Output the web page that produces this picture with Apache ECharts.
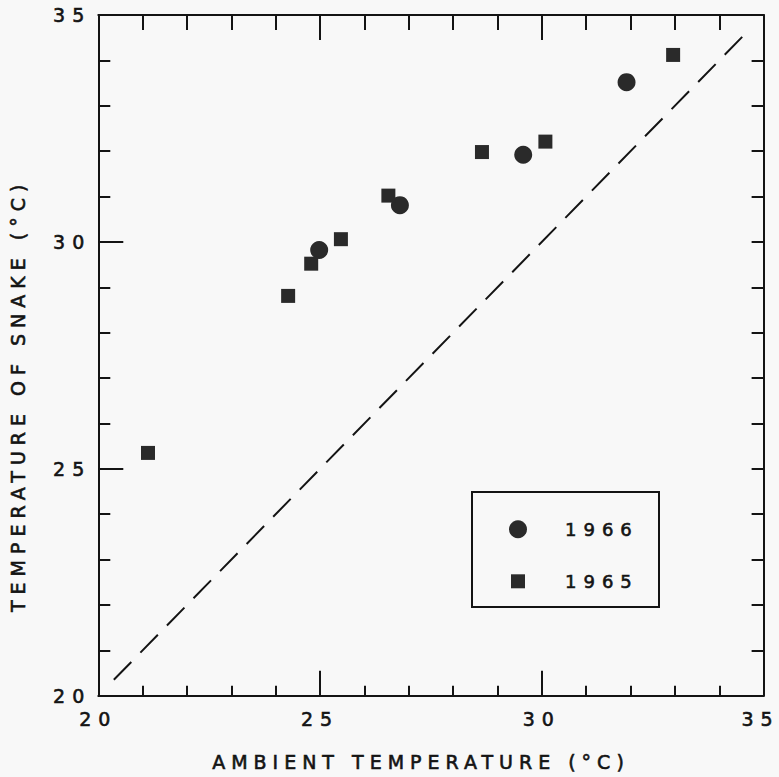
<!DOCTYPE html>
<html>
<head>
<meta charset="utf-8">
<script src="https://cdn.jsdelivr.net/npm/echarts@6/dist/echarts.min.js"></script>
<style>
html, body { margin: 0; padding: 0; background: #f8f8f8; }
#chart { width: 779px; height: 777px; }
</style>
</head>
<body>
<div id="chart"></div>
<script>
// Data
const xTitle = 'AMBIENT TEMPERATURE (°C)';
const yTitle = 'TEMPERATURE OF SNAKE (°C)';
const seriesNames = ['1966', '1965'];
const ambient1966 = [24.98, 26.80, 29.58, 31.91];
const snake1966   = [29.82, 30.81, 31.92, 33.52];
const ambient1965 = [21.12, 24.28, 24.80, 25.47, 26.54, 28.65, 30.08, 32.96];
const snake1965   = [25.35, 28.81, 29.52, 30.06, 31.02, 31.98, 32.21, 34.12];
const equalityLine = [20.35, 34.65];
const axisMin = 20, axisMax = 35, majorStep = 5, minorStep = 1;

const ink = '#141414';
const markColor = '#2a2a2a';
const font = 'DejaVu Sans';

const pairs = (xs, ys) => xs.map((x, i) => [x, ys[i]]);

function textStyle(size, extra) {
  return Object.assign({
    fontSize: size, color: ink, fontFamily: font,
    textBorderColor: ink, textBorderWidth: 0.6
  }, extra || {});
}

function makeAxis(position, step, tickLen, showLine, extra) {
  return Object.assign({
    type: 'value', position: position, min: axisMin, max: axisMax, interval: step,
    offset: 0,
    axisLine: { show: showLine, onZero: false, lineStyle: { color: ink, width: 2 } },
    splitLine: { show: false },
    axisTick: { show: true, inside: true, length: tickLen, lineStyle: { color: ink, width: 2 } },
    minorTick: { show: false },
    axisLabel: { show: false },
    axisPointer: { show: false }
  }, extra || {});
}

const chart = echarts.init(document.getElementById('chart'), null, { renderer: 'svg' });

const option = {
  backgroundColor: '#f8f8f8',
  animation: false,
  textStyle: { fontFamily: font, color: ink },
  grid: { left: 95, top: 15, right: 15, bottom: 81, containLabel: false },
  xAxis: [
    makeAxis('bottom', majorStep, 25, true, {
      name: xTitle, nameLocation: 'middle', nameGap: 57,
      nameTextStyle: textStyle(19, { padding: [0, 20, 0, 0] }),
      axisLabel: Object.assign({ show: true, margin: 14 }, textStyle(19))
    }),
    makeAxis('bottom', minorStep, 10, false),
    makeAxis('top', majorStep, 25, true),
    makeAxis('top', minorStep, 15, false)
  ],
  yAxis: [
    makeAxis('left', majorStep, 25, true, {
      name: yTitle, nameLocation: 'middle', nameGap: 71,
      nameTextStyle: textStyle(19, { padding: [0, 80, 0, 0] }),
      axisLabel: Object.assign({ show: true, margin: 7 }, textStyle(19))
    }),
    makeAxis('left', minorStep, 12, false),
    makeAxis('right', minorStep, 12, true)
  ],
  legend: [
    {
      data: [seriesNames[0]], orient: 'vertical', left: 509, top: 520,
      itemWidth: 18, itemHeight: 18, selectedMode: false, padding: 0,
      textStyle: textStyle(18, { padding: [0, 0, 0, 33] })
    },
    {
      data: [seriesNames[1]], orient: 'vertical', left: 511, top: 572,
      itemWidth: 14, itemHeight: 14, selectedMode: false, padding: 0,
      textStyle: textStyle(18, { padding: [0, 0, 0, 35] })
    }
  ],
  graphic: [
    { type: 'rect', shape: { x: 472, y: 492, width: 187, height: 115 },
      style: { fill: 'none', stroke: ink, lineWidth: 2 }, z: 10 }
  ],
  series: [
    {
      name: 'equality', type: 'line', xAxisIndex: 0, yAxisIndex: 0,
      data: pairs(equalityLine, equalityLine), symbol: 'none',
      lineStyle: { color: ink, width: 2, type: [25, 13] }, silent: true
    },
    {
      name: seriesNames[0], type: 'scatter', xAxisIndex: 0, yAxisIndex: 0,
      data: pairs(ambient1966, snake1966), symbol: 'circle', symbolSize: 18,
      itemStyle: { color: markColor, opacity: 1 }
    },
    {
      name: seriesNames[1], type: 'scatter', xAxisIndex: 0, yAxisIndex: 0,
      data: pairs(ambient1965, snake1965), symbol: 'rect', symbolSize: 14,
      itemStyle: { color: markColor, opacity: 1 }
    }
  ]
};

chart.setOption(option);

// Typewriter-like letter spacing on the SVG texts
function spaceTexts() {
  document.querySelectorAll('#chart text').forEach(function (t) {
    const s = (t.textContent || '').trim();
    if (/^\d\d$/.test(s)) {
      t.style.letterSpacing = '7px';
      if (s === '35' && t.getAttribute('text-anchor') === 'middle') t.setAttribute('dx', '-3');
    } else if (/^\d{4}$/.test(s)) {
      t.style.letterSpacing = '7px';
    } else if (s.length > 10) {
      t.style.letterSpacing = '6px';
    }
  });
}
chart.on('finished', spaceTexts);
spaceTexts();
setTimeout(spaceTexts, 0);
</script>
</body>
</html>
